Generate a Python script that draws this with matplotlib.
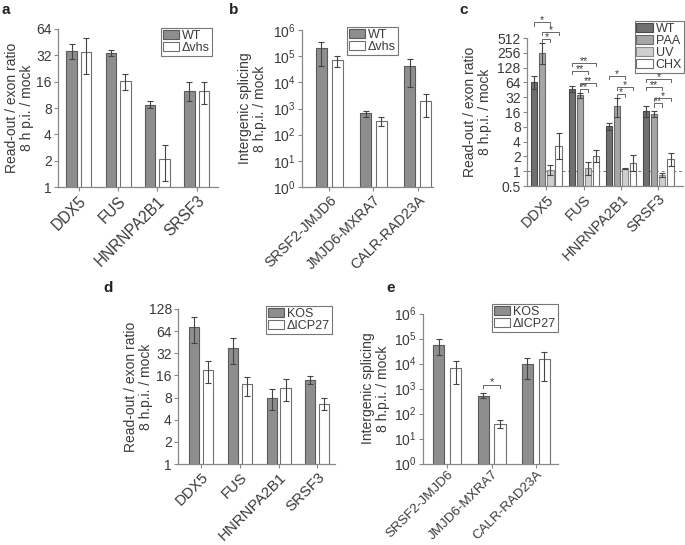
import matplotlib
matplotlib.use("Agg")
import matplotlib.pyplot as plt
from matplotlib.patches import Patch
import numpy as np

plt.rcParams['font.family'] = ['Liberation Sans', 'DejaVu Sans']
plt.rcParams['font.size'] = 10
plt.rcParams['mathtext.fontset'] = 'custom'
plt.rcParams['mathtext.rm'] = 'Liberation Sans'
TXT = '#3a3a3a'
SP = '#888888'
FS = 10

# ---------------- data ----------------
# panel a
a_genes = ['DDX5', 'FUS', 'HNRNPA2B1', 'SRSF3']
a_wt = [36, 34, 8.7, 12.4]
a_wt_lo = [29, 31.8, 7.9, 9.7]
a_wt_hi = [43, 36.5, 9.6, 15.8]
a_dv = [35, 16.4, 2.1, 12.4]
a_dv_lo = [19.7, 12.8, 1.18, 9.0]
a_dv_hi = [50, 19.7, 3.0, 15.8]

# panel b
b_pairs = ['SRSF2-JMJD6', 'JMJD6-MXRA7', 'CALR-RAD23A']
b_wt = [2.0e5, 650, 4.3e4]
b_wt_lo = [4.3e4, 480, 6.8e3]
b_wt_hi = [3.6e5, 800, 7.8e4]
b_dv = [7.1e4, 330, 2000]
b_dv_lo = [4.0e4, 218, 480]
b_dv_hi = [1.0e5, 455, 3500]

# panel c
c_genes = ['DDX5', 'FUS', 'HNRNPA2B1', 'SRSF3']
c_series = ['WT', 'PAA', 'UV', 'CHX']
c_vals = [[66, 47, 8.2, 16.8],
          [250, 35, 21, 14.6],
          [1.08, 1.15, 1.12, 0.84],
          [3.2, 2.0, 1.48, 1.76]]
c_lo = [[47, 41, 7.0, 12.7],
        [149, 31, 12.7, 12.7],
        [0.85, 0.82, 1.09, 0.78],
        [1.8, 1.53, 1.03, 1.27]]
c_hi = [[86, 54, 9.6, 21.6],
        [413, 39, 31, 17.1],
        [1.35, 1.53, 1.15, 0.93],
        [6.0, 2.65, 2.12, 2.33]]
# significance: (gene index, series i, series j, height, label)
c_sig = [(0, 0, 2, 1060, '*'), (0, 1, 3, 675, '*'), (0, 1, 2, 491, '*'),
         (1, 0, 3, 161, '**'), (1, 0, 2, 111, '**'), (1, 1, 3, 63, '**'), (1, 1, 2, 48, '**'),
         (2, 0, 2, 86, '*'), (2, 1, 3, 51, '*'), (2, 1, 2, 38, '*'),
         (3, 0, 3, 75, '*'), (3, 0, 2, 51, '**'), (3, 1, 3, 31, '*'), (3, 1, 2, 24, '**')]

# panel d
d_genes = ['DDX5', 'FUS', 'HNRNPA2B1', 'SRSF3']
d_kos = [72, 37.5, 7.9, 13.8]
d_kos_lo = [44, 22.9, 5.4, 12.2]
d_kos_hi = [100, 51, 10.4, 15.6]
d_icp = [19, 12.2, 10.7, 6.6]
d_icp_lo = [12.5, 8.3, 7.1, 5.4]
d_icp_hi = [25.4, 15.4, 14.4, 7.9]

# panel e
e_pairs = ['SRSF2-JMJD6', 'JMJD6-MXRA7', 'CALR-RAD23A']
e_kos = [5.6e4, 500, 9.7e3]
e_kos_lo = [2.2e4, 407, 2.4e3]
e_kos_hi = [9.6e4, 650, 1.7e4]
e_icp = [6.5e3, 38, 1.5e4]
e_icp_lo = [1.5e3, 27, 2.0e3]
e_icp_hi = [1.3e4, 55, 2.9e4]

# ---------------- drawing ----------------
W, H = 685, 545
fig = plt.figure(figsize=(W / 100, H / 100), dpi=100)


def ax_px(l, t, r, b):
    ax = fig.add_axes([l / W, 1 - b / H, (r - l) / W, (b - t) / H])
    ax._px = (l, r)
    return ax


def style(ax):
    for s in ['top', 'right']:
        ax.spines[s].set_visible(False)
    for s in ['left', 'bottom']:
        ax.spines[s].set_color(SP)
        ax.spines[s].set_linewidth(0.9)
    ax.tick_params(axis='both', colors=SP, labelcolor=TXT, labelsize=FS, length=3, width=0.8, pad=1.5)


def bars(ax, x, vals, lo, hi, width, color, edge):
    vals = np.array(vals)
    yerr = [vals - np.array(lo), np.array(hi) - vals]
    ax.bar(x, vals, width, color=color, edgecolor=edge, linewidth=0.8, zorder=2)
    ax.errorbar(x, vals, yerr=yerr, fmt='none', ecolor='#444444', elinewidth=0.8,
                capsize=2.5, capthick=0.8, zorder=3)


def legend(ax, labels, colors, edges, right, top):
    handles = [Patch(facecolor=c, edgecolor=e, linewidth=0.8) for c, e in zip(colors, edges)]
    lg = ax.legend(handles, labels, loc='upper right',
                   bbox_to_anchor=(right / W, 1 - top / H), bbox_transform=fig.transFigure,
                   fancybox=False, frameon=True, fontsize=9, handlelength=1.3, handleheight=0.65,
                   handletextpad=0.25, labelspacing=0.0, borderpad=0.15, borderaxespad=0)
    lg.get_frame().set_edgecolor('#555555')
    lg.get_frame().set_linewidth(0.8)
    for t in lg.get_texts():
        t.set_color(TXT)


def xlabels(ax, names, fs=FS):
    ax.set_xticks(range(len(names)))
    ax.set_xticklabels(names, rotation=45, ha='right', rotation_mode='anchor', fontsize=fs)


def log2_axis(ax, ticks):
    ax.set_yscale('log', base=2)
    ax.set_yticks(ticks)
    ax.set_yticklabels([('%g' % t) for t in ticks])
    ax.yaxis.set_minor_locator(matplotlib.ticker.NullLocator())


def log10_axis(ax):
    ax.set_yscale('log', base=10)
    ax.set_yticks([10 ** k for k in range(7)])
    ax.set_yticklabels([r'$10^{%d}$' % k for k in range(7)])
    ax.yaxis.set_minor_locator(matplotlib.ticker.NullLocator())


def ylab(ax, text, right_px):
    ax.set_ylabel(text, fontsize=FS, color=TXT, linespacing=1.1)
    l, r = ax._px
    ax.yaxis.set_label_coords((right_px - l) / (r - l), 0.5)


GRAY = '#8e8e8e'
GEDGE = '#5a5a5a'
WEDGE = '#707070'

# --- panel a ---
ax = ax_px(58, 29, 218, 187)
style(ax)
x = np.arange(4)
bars(ax, x - 0.186, a_wt, a_wt_lo, a_wt_hi, 0.27, GRAY, GEDGE)
bars(ax, x + 0.186, a_dv, a_dv_lo, a_dv_hi, 0.27, 'white', WEDGE)
log2_axis(ax, [1, 2, 4, 8, 16, 32, 64])
ax.set_ylim(1, 64)
ax.set_xlim(-0.53, 3.54)
xlabels(ax, a_genes, 11.2)
ylab(ax, 'Read-out / exon ratio\n8 h p.i. / mock', 34)
legend(ax, ['WT', 'Δvhs'], [GRAY, 'white'], [GEDGE, WEDGE], 212, 28)

# --- panel b ---
ax = ax_px(302, 30, 433, 187)
style(ax)
x = np.arange(3)
bars(ax, x - 0.18, b_wt, b_wt_lo, b_wt_hi, 0.26, GRAY, GEDGE)
bars(ax, x + 0.18, b_dv, b_dv_lo, b_dv_hi, 0.26, 'white', WEDGE)
log10_axis(ax)
ax.set_ylim(1, 1e6)
ax.set_xlim(-0.62, 2.35)
xlabels(ax, b_pairs, 10.3)
ylab(ax, 'Intergenic splicing\n8 h.p.i. / mock', 267)
legend(ax, ['WT', 'Δvhs'], [GRAY, 'white'], [GEDGE, WEDGE], 398, 27)

# --- panel c ---
ax = ax_px(527, 38, 683, 186)
style(ax)
x = np.arange(4)
c_colors = ['#707070', '#a6a6a6', '#cfcfcf', 'white']
c_edges = ['#4a4a4a', '#6a6a6a', '#8a8a8a', '#707070']
step = 0.217
for i in range(4):
    bars(ax, x + (i - 1.5) * step, c_vals[i], c_lo[i], c_hi[i], 0.165, c_colors[i], c_edges[i])
log2_axis(ax, [0.5, 1, 2, 4, 8, 16, 32, 64, 128, 256, 512])
ax.set_ylim(0.5, 512)
ax.set_xlim(-0.52, 3.66)
ax.axhline(1, color='#777777', lw=0.7, ls=(0, (3, 3)), zorder=1)
xlabels(ax, c_genes, 10.5)
ylab(ax, 'Read-out / exon ratio\n8 h.p.i. / mock', 492)
for g, i, j, h, lab in c_sig:
    x1 = g + (i - 1.5) * step
    x2 = g + (j - 1.5) * step
    ax.plot([x1, x1, x2, x2], [h * 0.86, h, h, h * 0.86], color='#666666', lw=0.7,
            clip_on=False, zorder=4)
    ax.text((x1 + x2) / 2, h * 0.95, lab, ha='center', va='baseline', fontsize=7.5,
            color=TXT, clip_on=False)
legend(ax, c_series, c_colors, c_edges, 684, 21)

# --- panel d ---
ax = ax_px(178, 309, 335, 464)
style(ax)
x = np.arange(4)
bars(ax, x - 0.18, d_kos, d_kos_lo, d_kos_hi, 0.26, GRAY, GEDGE)
bars(ax, x + 0.18, d_icp, d_icp_lo, d_icp_hi, 0.26, 'white', WEDGE)
log2_axis(ax, [1, 2, 4, 8, 16, 32, 64, 128])
ax.set_ylim(1, 128)
ax.set_xlim(-0.60, 3.46)
xlabels(ax, d_genes, 10.8)
ylab(ax, 'Read-out / exon ratio\n8 h.p.i. / mock', 153)
legend(ax, ['KOS', 'ΔICP27'], [GRAY, 'white'], [GEDGE, WEDGE], 332, 306)

# --- panel e ---
ax = ax_px(423, 313.5, 558, 463.5)
style(ax)
x = np.arange(3)
bars(ax, x - 0.19, e_kos, e_kos_lo, e_kos_hi, 0.25, GRAY, GEDGE)
bars(ax, x + 0.19, e_icp, e_icp_lo, e_icp_hi, 0.25, 'white', WEDGE)
log10_axis(ax)
ax.set_ylim(1, 1e6)
ax.set_xlim(-0.55, 2.50)
xlabels(ax, e_pairs, 9.6)
ax.tick_params(axis='x', pad=0.5)
ylab(ax, 'Intergenic splicing\n8 h.p.i. / mock', 390)
h = 1390
ax.plot([1 - 0.19, 1 - 0.19, 1 + 0.19, 1 + 0.19], [h * 0.72, h, h, h * 0.72], color='#666666', lw=0.7, zorder=4)
ax.text(1, h * 0.97, '*', ha='center', va='baseline', fontsize=8, color=TXT)
legend(ax, ['KOS', 'ΔICP27'], [GRAY, 'white'], [GEDGE, WEDGE], 558, 304)

# panel letters
for lab, px, py in [('a', 2, 14), ('b', 229, 14), ('c', 459, 14), ('d', 103, 292), ('e', 386, 292)]:
    fig.text(px / W, 1 - py / H, lab, fontsize=11, fontweight='bold', color='#222222')

fig.savefig('out.png', dpi=100)
